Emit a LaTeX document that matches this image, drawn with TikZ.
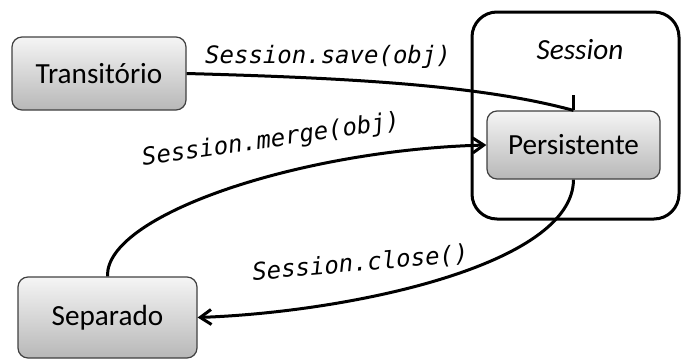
\documentclass[tikz,border=0pt]{standalone}
\usepackage{fontspec}
\setmainfont{Carlito}
\newfontfamily\codefont{DejaVu Sans Mono}
\usetikzlibrary{arrows.meta, positioning}

\begin{document}
\begin{tikzpicture}[x=0.5pt, y=-0.5pt,
    stbox/.style={draw=black!75, line width=0.6pt, rounded corners=5pt, top color=black!4, bottom color=black!28, font=\fontsize{14.6}{16}\selectfont},
    lbl/.style={font=\codefont\itshape\fontsize{12}{14}\selectfont, anchor=base, inner sep=0pt},
    conn/.style={line width=1.5pt, -{Straight Barb[length=5.5pt, width=7.5pt]}}]
    \useasboundingbox (0,0) rectangle (681,360);

    % session container
    \node[draw, line width=1.5pt, rounded corners=12.5pt, minimum width=103.5pt, minimum height=103.5pt] (session) at (575.5,115.5) {};
    \node[font=\fontsize{14.6}{16}\selectfont\itshape] (sesslbl) at (580,50) {Session};

    % states
    \node[stbox, minimum width=87pt, minimum height=36.5pt] (trans) at (99,73.5) {Transitório};
    \node[stbox, minimum width=86.5pt, minimum height=34pt] (pers) at (573.5,145) {Persistente};
    \node[stbox, minimum width=89.5pt, minimum height=40.5pt] (sep) at (107.5,317.5) {Separado};

    % transitions
    \draw[line width=1.5pt] (trans.east) .. controls (350,78) and (480,85) .. (pers.north);
    \draw[line width=1.5pt] (pers.north) -- ++(0,-15);
    \draw[conn] (sep.north) .. controls (105,215) and (300,150) .. (pers.west);
    \draw[conn] (pers.south) .. controls (573,265) and (350,312) .. (sep.east);

    \node[lbl] (save) at (328,63) {Session.save(obj)};
    \node[lbl, rotate=8] (merge) at (272,147) {Session.merge(obj)};
    \node[lbl, rotate=5] (close) at (361,271) {Session.close()};
\end{tikzpicture}
\end{document}
